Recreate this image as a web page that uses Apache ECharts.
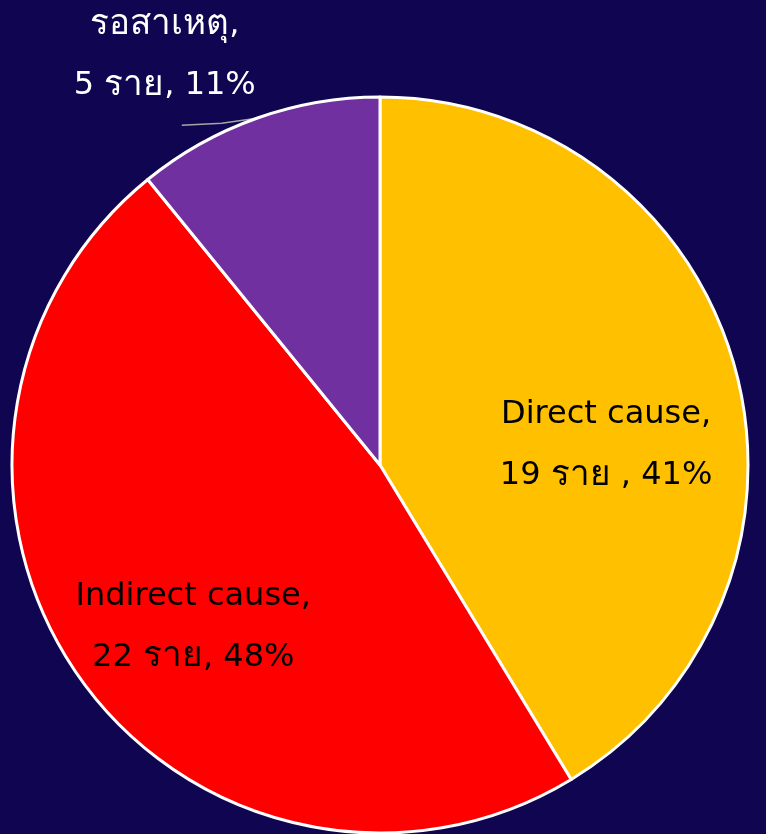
<!DOCTYPE html>
<html>
<head>
<meta charset="utf-8">
<style>
  html, body { margin: 0; padding: 0; background: #0f0550; }
  #chart { width: 766px; height: 834px; }
</style>
<script src="https://cdn.jsdelivr.net/npm/echarts@6/dist/echarts.min.js"></script>
</head>
<body>
<div id="chart"></div>
<script>
// Causes of death and case counts
const categories = ['Direct cause', 'Indirect cause', 'รอสาเหตุ'];
const counts = [19, 22, 5];
const percents = [41, 48, 11];
const countSeparators = [' , ', ', ', ', '];
const sliceColors = ['#FFC000', '#FF0000', '#7030A0'];
const textColors = ['#000000', '#000000', '#ffffff'];

// label placement: offsets from the slice's default inside anchor
const labelOffsets = [[46, 31], [-34, 54], null];

const isThai = s => /[\u0E00-\u0E7F]/.test(s);
const wrap = (s, i) => isThai(s) ? '{th' + i + '|' + s + '}' : '{en' + i + '|' + s + '}';

const baseFont = { fontFamily: 'DejaVu Sans, sans-serif', lineHeight: 61 };
const rich = {};
textColors.forEach((c, i) => {
  rich['en' + i] = Object.assign({ fontSize: 32, color: c }, baseFont);
  rich['th' + i] = Object.assign({ fontSize: 35, color: c }, baseFont);
});

const chart = echarts.init(document.getElementById('chart'));

const data = categories.map((name, i) => ({
  name: name,
  value: counts[i],
  itemStyle: { color: sliceColors[i] },
  label: { position: i === 2 ? 'outside' : 'inside', color: textColors[i] },
  labelLine: { show: i === 2 }
}));

chart.setOption({
  backgroundColor: '#0f0550',
  animation: false,
  series: [{
    type: 'pie',
    center: [380, 465],
    radius: [0, 368],
    startAngle: 90,
    clockwise: true,
    data: data,
    itemStyle: { borderColor: '#ffffff', borderWidth: 3 },
    label: {
      fontFamily: 'DejaVu Sans, sans-serif',
      fontSize: 32,
      lineHeight: 61,
      align: 'center',
      overflow: 'none',
      rich: rich,
      formatter: p => {
        const i = p.dataIndex;
        return wrap(p.name, i) + wrap(',', i) + '\n' +
          wrap(counts[i] + ' ', i) + wrap('ราย', i) +
          wrap(countSeparators[i] + percents[i] + '%', i);
      }
    },
    labelLine: {
      length: 4,
      length2: 70,
      lineStyle: { color: '#a6a6a6', width: 1.5 }
    },
    labelLayout: function (params) {
      const i = params.dataIndex;
      const r = params.labelRect;
      if (i === 2) {
        const p0 = params.labelLinePoints ? params.labelLinePoints[0] : [258, 118];
        const end = [p0[0] - 75, p0[1] + 7];
        return {
          x: end[0] - 17,
          y: end[1] - 70,
          align: 'center',
          verticalAlign: 'middle',
          labelLinePoints: [p0, [p0[0] - 35, p0[1] + 5], end]
        };
      }
      const off = labelOffsets[i];
      return {
        x: r.x + r.width / 2 + off[0],
        y: r.y + r.height / 2 + off[1],
        align: 'center',
        verticalAlign: 'middle'
      };
    }
  }]
});
</script>
</body>
</html>
